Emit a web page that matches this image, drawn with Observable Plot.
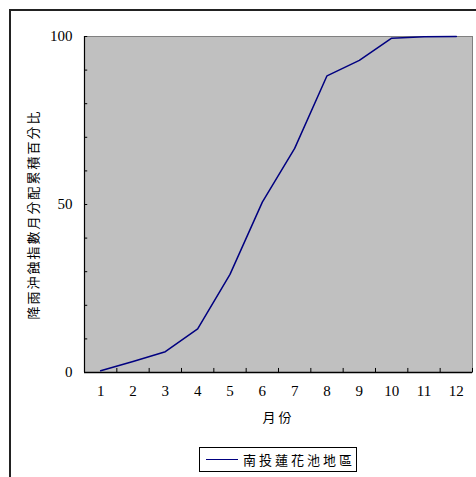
<!DOCTYPE html>
<html>
<head>
<meta charset="utf-8">
<script src="https://cdn.jsdelivr.net/npm/d3@7"></script>
<script src="https://cdn.jsdelivr.net/npm/@observablehq/plot@0.6"></script>
<style>
  html, body { margin: 0; padding: 0; background: #fff; }
  #wrap { position: relative; width: 476px; height: 477px; overflow: hidden; background: #fff; }
  #border { position: absolute; left: 9px; top: 9px; width: 600px; height: 600px;
            border-left: 2px solid #222; border-top: 2px solid #222; }
  #chart { position: absolute; left: 0; top: 0; }
  #legend { position: absolute; left: 199px; top: 447px; width: 156px; height: 23px;
            border: 1px solid #000; background: #fff; box-sizing: content-box;
            font-family: "Noto Sans CJK TC", sans-serif; font-size: 13px; letter-spacing: 3px;
            display: flex; align-items: center; }
  #legend .swatch { width: 32px; height: 0; border-top: 1.5px solid #000080; margin: 0 5px 0 6px; }
</style>
</head>
<body>
<div id="wrap">
  <div id="border"></div>
  <div id="chart"></div>
  <div id="legend"><span class="swatch"></span><span id="legendText"></span></div>
</div>
<script>
// Cumulative monthly share of the rainfall erosivity index (%)
const months = [1, 2, 3, 4, 5, 6, 7, 8, 9, 10, 11, 12];
const cumulative = [0.5, 3.3, 6.2, 13.0, 29.2, 50.7, 66.7, 88.3, 92.9, 99.5, 99.9, 100];
const seriesName = "南投蓮花池地區";
const yTickLabels = [0, 50, 100];
const yMinorTicks = [0, 10, 20, 30, 40, 50, 60, 70, 80, 90, 100];
const monthBounds = [0.5, 1.5, 2.5, 3.5, 4.5, 5.5, 6.5, 7.5, 8.5, 9.5, 10.5, 11.5, 12.5];
const yTitle = "降雨沖蝕指數月分配累積百分比";
const xTitle = "月份";

const data = months.map((m, i) => ({month: m, value: cumulative[i]}));
const serif = "'Liberation Serif', 'DejaVu Serif', serif";
const cjk = "'Noto Sans CJK TC', sans-serif";

const chart = Plot.plot({
  width: 476,
  height: 440,
  marginLeft: 84,
  marginRight: 4,
  marginTop: 36,
  marginBottom: 68,
  style: {background: "transparent", fontFamily: serif, fontSize: "15px", color: "#000"},
  x: {domain: [0.5, 12.5], axis: null},
  y: {domain: [0, 100], axis: null},
  marks: [
    Plot.frame({fill: "#c0c0c0", stroke: "#808080"}),
    Plot.axisY(yTickLabels, {tickSize: 0, tickPadding: 12, fontSize: 15, fontFamily: serif, label: null}),
    Plot.axisX(months, {tickSize: 0, tickPadding: 13, fontSize: 15, fontFamily: serif, label: null}),
    // inward tick marks
    Plot.ruleY(yMinorTicks, {x1: 0.5, x2: 0.6, stroke: "#000"}),
    Plot.ruleX(monthBounds, {y1: 0, y2: 1.2, stroke: "#000"}),
    Plot.ruleX([0.5], {stroke: "#000", strokeWidth: 1.2}),
    Plot.ruleY([0], {stroke: "#000", strokeWidth: 1.5}),
    Plot.line(data, {x: "month", y: "value", stroke: "#000080", strokeWidth: 1.5}),
    Plot.text([yTitle], {x: -1.08, y: 47, text: d => d, rotate: -90, fontFamily: cjk, fontSize: 13, textAnchor: "middle"}),
    Plot.text([xTitle], {x: 6.5, y: -13.4, text: d => d, fontFamily: cjk, fontSize: 13, textAnchor: "middle"})
  ]
});

d3.select(chart).selectAll("text").each(function () {
  const t = this.textContent;
  if (t === yTitle) d3.select(this).style("letter-spacing", "2px");
  if (t === xTitle) d3.select(this).style("letter-spacing", "3px");
});

document.getElementById("chart").appendChild(chart);
document.getElementById("legendText").textContent = seriesName;
</script>
</body>
</html>
